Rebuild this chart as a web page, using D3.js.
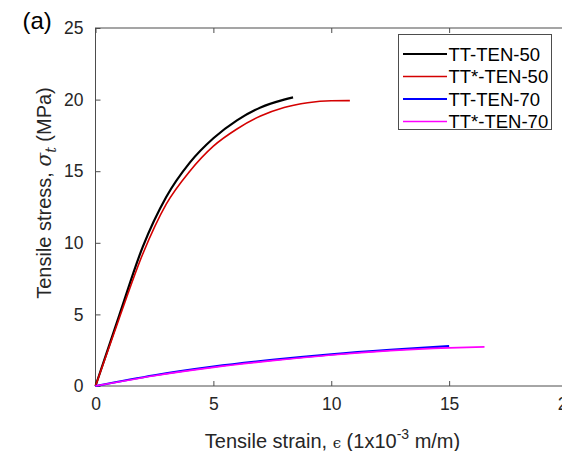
<!doctype html>
<html>
<head>
<meta charset="UTF-8">
<title>Tensile stress-strain</title>
<style>
  body { margin: 0; background: #fff; }
  svg { font-family: 'Liberation Sans', Arial, sans-serif; }
  .axis path, .axis line { stroke: #4d4d4d; }
  .axis text { fill: #262626; font-size: 17.5px; font-family: 'Liberation Sans', Arial, sans-serif; }
</style>
</head>
<body>
<script src="https://cdn.jsdelivr.net/npm/d3@7"></script>
<script>
  // values
  const strainTT50 = [0, 1, 2, 3, 4, 5, 6, 7, 8, 8.38]
  const stressTT50 = [0, 4.9, 9.7, 13.2, 15.6, 17.3, 18.55, 19.45, 20.0, 20.16]
  const strainTTs50 = [0, 1, 2, 3, 4, 5, 6, 7, 8, 9, 10, 10.79]
  const stressTTs50 = [0, 4.7, 9.2, 12.7, 15.0, 16.75, 17.95, 18.85, 19.45, 19.78, 19.92, 19.93]
  const strainTT70 = [0, 2.5, 5, 7.5, 10, 12.5, 15]
  const stressTT70 = [0, 0.75, 1.35, 1.82, 2.21, 2.52, 2.78]
  const strainTTs70 = [0, 2.5, 5, 7.5, 10, 12.5, 15, 16.5]
  const stressTTs70 = [0, 0.72, 1.3, 1.77, 2.17, 2.47, 2.66, 2.73]

  const seriesNames = ['TT-TEN-50', 'TT*-TEN-50', 'TT-TEN-70', 'TT*-TEN-70']
  const seriesColors = ['#000000', '#d40000', '#0000ff', '#ff00ff']
  const seriesWidths = [2.2, 1.6, 2.2, 1.6]
  const xTicks = [0, 5, 10, 15, 20]
  const yTicks = [0, 5, 10, 15, 20, 25]

  const series = [
    d3.zip(strainTT50, stressTT50),
    d3.zip(strainTTs50, stressTTs50),
    d3.zip(strainTT70, stressTT70),
    d3.zip(strainTTs70, stressTTs70)
  ]

  const W = 562, H = 451
  const pLeft = 95.5, pRight = 567, pTop = 28, pBottom = 386

  const x = d3.scaleLinear().domain([0, 20]).range([pLeft, pRight])
  const y = d3.scaleLinear().domain([0, 25]).range([pBottom, pTop])

  const svg = d3.select('body').append('svg')
    .attr('width', W).attr('height', H)

  // box
  svg.append('rect')
    .attr('x', pLeft).attr('y', pTop)
    .attr('width', pRight - pLeft).attr('height', pBottom - pTop)
    .attr('fill', 'none').attr('stroke', '#4d4d4d').attr('stroke-width', 1)

  svg.append('g')
    .attr('class', 'axis')
    .attr('transform', `translate(0, ${pBottom})`)
    .call(d3.axisBottom(x).tickValues(xTicks).tickSizeInner(-5).tickSizeOuter(0).tickPadding(12))
    .call(g => g.select('.domain').remove())

  svg.append('g')
    .attr('class', 'axis')
    .attr('transform', `translate(0, ${pTop})`)
    .call(d3.axisTop(x).tickValues(xTicks).tickSizeInner(-5).tickSizeOuter(0).tickFormat(''))
    .call(g => g.select('.domain').remove())

  svg.append('g')
    .attr('class', 'axis')
    .attr('transform', `translate(${pLeft}, 0)`)
    .call(d3.axisLeft(y).tickValues(yTicks).tickSizeInner(-5).tickSizeOuter(0).tickPadding(12))
    .call(g => g.select('.domain').remove())

  const line = d3.line()
    .x(d => x(d[0]))
    .y(d => y(d[1]))
    .curve(d3.curveMonotoneX)

  svg.selectAll('.series')
    .data(series)
    .join('path')
    .attr('class', 'series')
    .attr('d', line)
    .attr('fill', 'none')
    .attr('stroke', (d, i) => seriesColors[i])
    .attr('stroke-width', (d, i) => seriesWidths[i])

  // legend
  const leg = svg.append('g')
  leg.append('rect')
    .attr('x', 398.5).attr('y', 34.5).attr('width', 153).attr('height', 95)
    .attr('fill', '#fff').attr('stroke', '#4d4d4d').attr('stroke-width', 1)
  const rows = leg.selectAll('.row')
    .data(seriesNames)
    .join('g')
    .attr('transform', (d, i) => `translate(0, ${54 + i * 22.5})`)
  rows.append('line')
    .attr('x1', 403).attr('x2', 447).attr('y1', 0).attr('y2', 0)
    .attr('stroke', (d, i) => seriesColors[i])
    .attr('stroke-width', (d, i) => seriesWidths[i])
  rows.append('text')
    .attr('x', 448.5).attr('y', 6.5)
    .attr('font-size', 18.5)
    .attr('fill', '#000')
    .text(d => d)

  // axis titles
  const xt = svg.append('text')
    .attr('x', 332.5).attr('y', 448)
    .attr('text-anchor', 'middle')
    .attr('font-size', 20).attr('fill', '#262626')
  xt.append('tspan').text('Tensile strain, ')
  xt.append('tspan').attr('font-family', 'DejaVu Serif').attr('font-size', 15).text('\u03f5')
  xt.append('tspan').text(' (1x10')
  xt.append('tspan').attr('dy', -9).attr('font-size', 14).text('-3')
  xt.append('tspan').attr('dy', 9).text(' m/m)')

  const yt = svg.append('text')
    .attr('transform', 'translate(50.5, 193) rotate(-90)')
    .attr('text-anchor', 'middle')
    .attr('font-size', 20).attr('fill', '#262626')
  yt.append('tspan').text('Tensile stress, ')
  yt.append('tspan').attr('font-family', 'DejaVu Serif').attr('font-style', 'italic').text('\u03c3')
  yt.append('tspan').attr('dy', 5).attr('font-size', 14).attr('font-family', 'DejaVu Serif').attr('font-style', 'italic').text('t')
  yt.append('tspan').attr('dy', -5).text(' (MPa)')

  svg.append('text')
    .attr('x', 22.5).attr('y', 29)
    .attr('font-size', 24).attr('fill', '#000')
    .text('(a)')
</script>
</body>
</html>
